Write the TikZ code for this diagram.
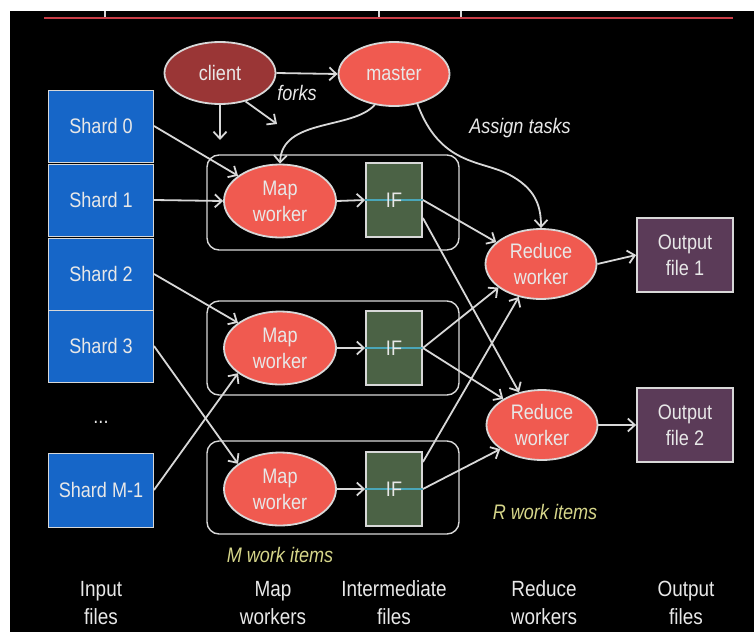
\documentclass[tikz,border=0pt]{standalone}
\usepackage{fontspec}
\setmainfont{Liberation Sans}[FakeStretch=0.86]
\usetikzlibrary{shapes.geometric,arrows.meta}
\definecolor{bg}{HTML}{000000}
\definecolor{edge}{HTML}{D8D8D8}
\definecolor{txt}{HTML}{E8E8E8}
\definecolor{shardblue}{HTML}{1666C8}
\definecolor{clientred}{HTML}{9A3636}
\definecolor{workred}{HTML}{F05A50}
\definecolor{ifgreen}{HTML}{4B6245}
\definecolor{outpurple}{HTML}{5B3B58}
\definecolor{note}{HTML}{D6D68A}
\definecolor{rule}{HTML}{C83C46}
\definecolor{cyanline}{HTML}{4AA6B8}
\tikzset{
  x=1pt, y=-1pt,
  every node/.style={font=\fontsize{21}{26}\selectfont, text=txt, align=center, inner sep=0pt},
  shardbox/.style={draw=edge, line width=1pt, fill=shardblue, minimum width=105, minimum height=72},
  oval/.style={ellipse, draw=edge, line width=1.8pt, minimum width=111, minimum height=70},
  ifbox/.style={draw=edge, line width=1.8pt, fill=ifgreen, minimum width=56, minimum height=74},
  outbox/.style={draw=edge, line width=1.8pt, fill=outpurple, minimum width=96, minimum height=74},
  group/.style={draw=edge, line width=1.4pt, rounded corners=12pt},
  conn/.style={draw=edge, line width=1.8pt, -{Straight Barb[length=7pt,width=13pt,line width=1.8pt]}},
  noteital/.style={text=note, font=\fontsize{21}{26}\selectfont\itshape},
  whiteital/.style={text=txt, font=\fontsize{21}{26}\selectfont\itshape},
  caption/.style={font=\fontsize{22}{28}\selectfont}
}
\begin{document}
\begin{tikzpicture}
% page and black slide area
\useasboundingbox (0,0) rectangle (754,632);
\fill[white] (0,0) rectangle (754,632);
\fill[bg] (10,11) rectangle (754,632);
% title rule with small ticks
\draw[rule, line width=1.2pt] (44,18) -- (733,18);
\foreach \tx in {105,379,461} \draw[edge, line width=1.2pt] (\tx,11) -- (\tx,17);

% group frames
\draw[group] (207,155) rectangle (459,250);
\draw[group] (207,301) rectangle (459,395);
\draw[group] (207,441) rectangle (459,534);

% input shards
\node[shardbox] (s0) at (101,126) {Shard 0};
\node[shardbox] (s1) at (101,200) {Shard 1};
\node[shardbox] (s2) at (101,274) {Shard 2};
\node[shardbox] (s3) at (101,346) {Shard 3};
\node (dots) at (101,422) {...};
\node[shardbox, minimum height=74] (sm) at (101,490) {Shard M-1};

% client and master
\node[oval, fill=clientred, minimum height=62] (client) at (220,73) {client};
\node[oval, fill=workred, minimum height=64] (master) at (394,74) {master};

% map workers
\node[oval, fill=workred, minimum width=112, minimum height=73] (mw1) at (280,201) {Map\\worker};
\node[oval, fill=workred, minimum width=112, minimum height=73] (mw2) at (280,348) {Map\\worker};
\node[oval, fill=workred, minimum width=112, minimum height=73] (mw3) at (280,489) {Map\\worker};

% intermediate files
\node[ifbox] (if1) at (394,200) {};
\node[ifbox] (if2) at (394,348) {};
\node[ifbox] (if3) at (394,489) {};
\foreach \n in {if1,if2,if3} {
  \draw[cyanline, line width=2pt] (\n.west) -- (\n.east);
  \node at (\n.center) {IF};
}

% reduce workers
\node[oval, fill=workred] (rw1) at (541,264) {Reduce\\worker};
\node[oval, fill=workred] (rw2) at (542,425) {Reduce\\worker};

% output files
\node[outbox] (of1) at (685,255) {Output\\file 1};
\node[outbox] (of2) at (685,425) {Output\\file 2};

% control flow from the client and master
\draw[conn] (client.east) -- (master.west);
\draw[conn] (client.south) -- (220,140);
\coordinate (forktip) at (277,124);
\draw[conn] (client.-48) -- (forktip);
\node[whiteital] (forks) at (297,93) {forks};
\draw[conn] (master.-122) .. controls (352,130) and (282,118) .. (mw1.north);
\draw[conn] (master.-52) .. controls (440,165) and (480,160) .. (508,174)
  .. controls (535,188) and (541,205) .. (rw1.north);
\node[whiteital] (assign) at (520,128) {Assign tasks};

% shards to map workers
\draw[conn] (s0.east) -- (mw1.149);
\draw[conn] (s1.east) -- (mw1.west);
\draw[conn] (s2.east) -- (mw2.149);
\draw[conn] (s3.east) -- (mw3.149);
\draw[conn] (sm.east) -- (mw2.211);

% map workers to intermediate files
\draw[conn] (mw1.east) -- (if1.west);
\draw[conn] (mw2.east) -- (if2.west);
\draw[conn] (mw3.east) -- (if3.west);

% intermediate files to reduce workers
\draw[conn] (if1.east) -- (rw1.154);
\draw[conn] ([yshift=-18pt]if1.east) -- (rw2.125);
\draw[conn] (if2.east) -- (rw1.209);
\draw[conn] (if2.east) -- (rw2.146);
\draw[conn] ([yshift=27pt]if3.east) -- (rw1.236);
\draw[conn] (if3.east) -- (rw2.210);

% reduce workers to outputs
\draw[conn] (rw1.east) -- (of1.west);
\draw[conn] (rw2.east) -- (of2.west);

% annotations
\node[noteital] (mitems) at (280,555) {M work items};
\node[noteital] (ritems) at (545,512) {R work items};

% column captions
\node[caption] (c1) at (101,603) {Input\\files};
\node[caption] (c2) at (273,603) {Map\\workers};
\node[caption] (c3) at (394,603) {Intermediate\\files};
\node[caption] (c4) at (544,603) {Reduce\\workers};
\node[caption] (c5) at (686,603) {Output\\files};
\end{tikzpicture}
\end{document}
